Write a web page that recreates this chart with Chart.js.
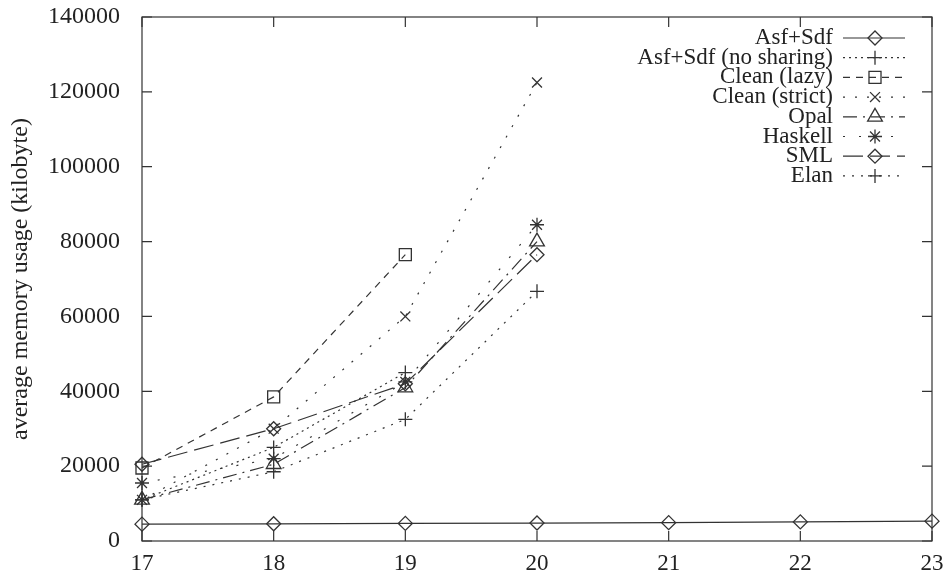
<!DOCTYPE html>
<html>
<head>
<meta charset="utf-8">
<script src="https://cdn.jsdelivr.net/npm/chart.js@4/dist/chart.umd.min.js"></script>
<style>
  html, body { margin: 0; padding: 0; background: #fff; }
  #wrap { width: 945px; height: 578px; }
</style>
</head>
<body>
<div id="wrap"><canvas id="memChart"></canvas></div>
<script>
// x 軸的值（問題規模）
const xValues = [17, 18, 19, 20, 21, 22, 23];
const yTicks = [0, 20000, 40000, 60000, 80000, 100000, 120000, 140000];

// 各系列數據 (kilobyte)，缺值為 null
const asfSdf        = [4500, 4600, 4700, 4800, 4900, 5100, 5300];
const asfNoSharing  = [11000, 25000, 45000, null, null, null, null];
const cleanLazy     = [19500, 38500, 76500, null, null, null, null];
const cleanStrict   = [11000, 30000, 60000, 122500, null, null, null];
const opal          = [11000, 20500, 41000, 80000, null, null, null];
const haskell       = [15500, 22000, 42500, 84500, null, null, null];
const sml           = [20500, 30000, 42000, 76500, null, null, null];
const elan          = [11000, 18500, 32500, 66700, null, null, null];

const seriesNames = ['Asf+Sdf', 'Asf+Sdf (no sharing)', 'Clean (lazy)', 'Clean (strict)',
                     'Opal', 'Haskell', 'SML', 'Elan'];

const FONT = '"Liberation Serif", "DejaVu Serif", serif';
const INK = '#333';

function toPoints(vals) {
    return vals.map((v, i) => ({ x: xValues[i], y: v })).filter(p => p.y !== null);
}

function makeSet(label, vals, pointStyle, dash, radius) {
    return {
        label: label,
        data: toPoints(vals),
        borderColor: INK,
        backgroundColor: 'rgba(0,0,0,0)',
        borderWidth: 1.2,
        borderDash: dash,
        pointStyle: pointStyle,
        pointRadius: radius || 7,
        pointBorderWidth: 1.3,
        pointBorderColor: INK,
        pointBackgroundColor: 'rgba(0,0,0,0)',
        tension: 0,
        clip: false
    };
}

// 邊框與向內的刻度
const framePlugin = {
    id: 'frame',
    afterDraw(chart) {
        const ctx = chart.ctx;
        const a = chart.chartArea;
        const xs = chart.scales.x, ys = chart.scales.y;
        ctx.save();
        ctx.strokeStyle = INK;
        ctx.lineWidth = 1.2;
        ctx.setLineDash([]);
        ctx.strokeRect(a.left, a.top, a.right - a.left, a.bottom - a.top);
        ctx.beginPath();
        yTicks.forEach(v => {
            const y = ys.getPixelForValue(v);
            ctx.moveTo(a.left, y); ctx.lineTo(a.left + 10, y);
            ctx.moveTo(a.right, y); ctx.lineTo(a.right - 10, y);
        });
        xValues.forEach(v => {
            const x = xs.getPixelForValue(v);
            ctx.moveTo(x, a.bottom); ctx.lineTo(x, a.bottom - 10);
            ctx.moveTo(x, a.top); ctx.lineTo(x, a.top + 10);
        });
        ctx.stroke();
        ctx.restore();
    }
};

// 圖例：文字在左，線條樣本在右
const legendPlugin = {
    id: 'gpLegend',
    afterDraw(chart) {
        const ctx = chart.ctx;
        ctx.save();
        ctx.font = '23px ' + FONT;
        ctx.textAlign = 'right';
        ctx.textBaseline = 'middle';
        chart.data.datasets.forEach((ds, i) => {
            const y = 38 + i * 19.7;
            ctx.fillStyle = '#222';
            ctx.fillText(ds.label, 833, y);
            ctx.strokeStyle = INK;
            ctx.lineWidth = ds.borderWidth;
            ctx.setLineDash(ds.borderDash || []);
            ctx.beginPath();
            ctx.moveTo(843, y);
            ctx.lineTo(905, y);
            ctx.stroke();
            ctx.setLineDash([]);
            ctx.lineWidth = ds.pointBorderWidth;
            ctx.fillStyle = 'rgba(0,0,0,0)';
            Chart.helpers.drawPoint(ctx, { pointStyle: ds.pointStyle, radius: ds.pointRadius, borderWidth: ds.pointBorderWidth, rotation: 0 }, 875, y);
        });
        ctx.restore();
    }
};

document.addEventListener('DOMContentLoaded', function() {
    const ctx = document.getElementById('memChart').getContext('2d');
    new Chart(ctx, {
        type: 'line',
        data: {
            datasets: [
                makeSet(seriesNames[0], asfSdf, 'rectRot', []),
                makeSet(seriesNames[1], asfNoSharing, 'cross', [2, 4]),
                makeSet(seriesNames[2], cleanLazy, 'rect', [7, 6], 8.5),
                makeSet(seriesNames[3], cleanStrict, 'crossRot', [2, 10]),
                makeSet(seriesNames[4], opal, 'triangle', [14, 6, 2, 6], 8.5),
                makeSet(seriesNames[5], haskell, 'star', [2, 14]),
                makeSet(seriesNames[6], sml, 'rectRot', [20, 7]),
                makeSet(seriesNames[7], elan, 'cross', [2, 7])
            ]
        },
        options: {
            responsive: true,
            maintainAspectRatio: false,
            animation: false,
            layout: { padding: { left: 0, right: 13, top: 17, bottom: 0 } },
            plugins: {
                legend: { display: false },
                tooltip: { enabled: false }
            },
            scales: {
                x: {
                    type: 'linear',
                    min: 17,
                    max: 23,
                    afterBuildTicks(scale) { scale.ticks = xValues.map(v => ({ value: v })); },
                    afterFit(scale) {
                        scale.height = 37;
                        scale.paddingLeft = 0;
                        scale.paddingRight = 0;
                    },
                    grid: { display: false },
                    border: { display: false },
                    ticks: { color: '#222', font: { family: FONT, size: 23 }, padding: 1, callback: v => String(v) }
                },
                y: {
                    min: 0,
                    max: 140000,
                    afterBuildTicks(scale) { scale.ticks = yTicks.map(v => ({ value: v })); },
                    afterFit(scale) {
                        scale.width = 142;
                        scale.paddingTop = 0;
                        scale.paddingBottom = 0;
                    },
                    grid: { display: false },
                    border: { display: false },
                    title: {
                        display: true,
                        text: 'average memory usage (kilobyte)',
                        color: '#222',
                        font: { family: FONT, size: 24 },
                        padding: { top: 6, bottom: 0 }
                    },
                    ticks: { color: '#222', font: { family: FONT, size: 24 }, padding: 14, callback: v => String(v) }
                }
            }
        },
        plugins: [framePlugin, legendPlugin]
    });
});
</script>
</body>
</html>
